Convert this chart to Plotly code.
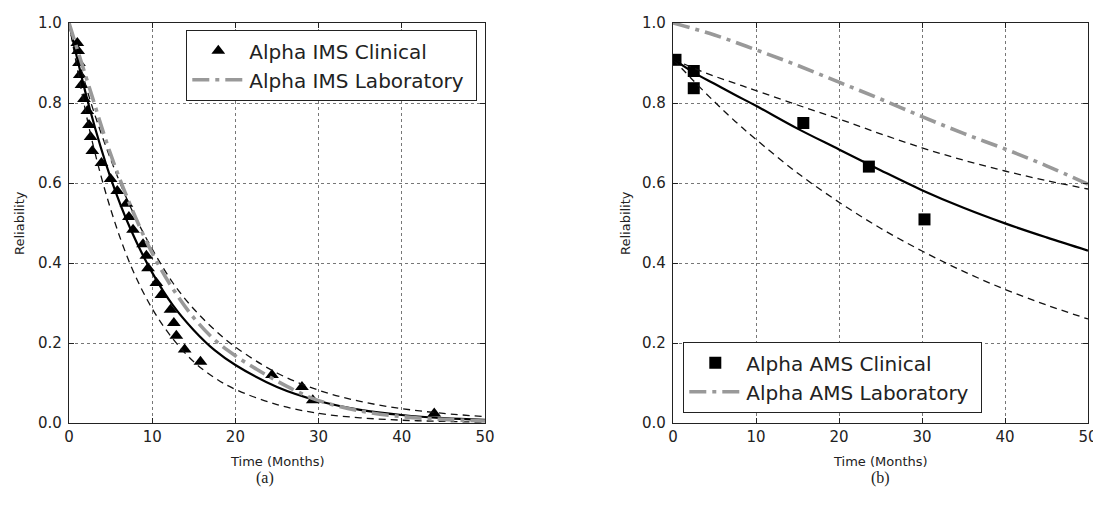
import plotly.graph_objects as go

# ---------------- data ----------------
# Panel (a): Alpha IMS
ims_clin_t = [1.0, 1.1, 1.2, 1.3, 1.5, 1.8, 2.2, 2.4, 2.6, 2.8, 3.9, 5.0, 5.8, 6.9, 7.2,
              7.7, 8.9, 9.3, 9.5, 10.5, 11.1, 12.2, 12.6, 12.9, 13.9, 15.8, 24.4, 28.0, 29.3, 43.9]
ims_clin_r = [0.95, 0.93, 0.90, 0.87, 0.845, 0.81, 0.78, 0.745, 0.715, 0.68, 0.65, 0.61, 0.58,
              0.548, 0.515, 0.483, 0.447, 0.418, 0.387, 0.35, 0.32, 0.283, 0.25, 0.218, 0.184,
              0.153, 0.12, 0.09, 0.057, 0.024]

ims_t = [0, 2.5, 5, 7.5, 10, 12.5, 15, 17.5, 20, 25, 30, 35, 40, 45, 50]
ims_fit = [1.0, 0.785, 0.613, 0.48, 0.376, 0.294, 0.232, 0.182, 0.145, 0.09, 0.055, 0.033, 0.02, 0.012, 0.008]
ims_upper = [1.0, 0.81, 0.66, 0.535, 0.435, 0.35, 0.285, 0.233, 0.19, 0.125, 0.082, 0.054, 0.036, 0.024, 0.016]
ims_lower = [1.0, 0.73, 0.535, 0.39, 0.286, 0.21, 0.153, 0.113, 0.084, 0.046, 0.024, 0.013, 0.007, 0.004, 0.002]
ims_lab_t = [0, 2.5, 5, 7.5, 10, 12.5, 15, 17.5, 20, 22.5, 25, 27.5, 30, 35, 40, 45, 50]
ims_lab = [1.0, 0.835, 0.672, 0.538, 0.425, 0.335, 0.263, 0.208, 0.168, 0.135, 0.105, 0.078,
           0.056, 0.03, 0.016, 0.009, 0.005]

# Panel (b): Alpha AMS
ams_clin_t = [0.3, 2.5, 2.5, 15.7, 23.6, 30.3]
ams_clin_r = [0.908, 0.88, 0.837, 0.75, 0.641, 0.509]

ams_t = [0, 2.5, 5, 7.5, 10, 15, 20, 25, 30, 35, 40, 45, 50]
ams_fit = [0.91, 0.876, 0.848, 0.82, 0.793, 0.736, 0.684, 0.632, 0.582, 0.538, 0.499, 0.464, 0.431]
ams_upper = [0.91, 0.887, 0.867, 0.849, 0.831, 0.795, 0.76, 0.723, 0.688, 0.657, 0.63, 0.606, 0.585]
ams_lower = [0.91, 0.855, 0.803, 0.754, 0.709, 0.625, 0.552, 0.487, 0.43, 0.379, 0.334, 0.295, 0.26]
ams_lab_t = [0, 5, 10, 15, 20, 25, 30, 35, 40, 45, 50]
ams_lab = [1.0, 0.97, 0.933, 0.894, 0.852, 0.81, 0.766, 0.724, 0.685, 0.643, 0.597]

x_ticks = [0, 10, 20, 30, 40, 50]
y_ticks = [0.0, 0.2, 0.4, 0.6, 0.8, 1.0]
y_tick_text = ["0.0", "0.2", "0.4", "0.6", "0.8", "1.0"]

# ---------------- styles ----------------
GRAY = "#999999"
LAB_DASH = "17px,6px,4px,6px"
BOUND_DASH = "7px,5px"
FONT = "DejaVu Sans"
INK = "#222222"
PAD = "\u00a0"

fig = go.Figure()


def add_panel(xa, ya, legend, clin_t, clin_r, clin_name, symbol, msize,
              t, fit, upper, lower, lab_t, lab, lab_name):
    fig.add_trace(go.Scatter(x=clin_t, y=clin_r, mode="markers", name=clin_name,
                             marker=dict(symbol=symbol, size=msize, color="black",
                                         line=dict(width=0)),
                             xaxis=xa, yaxis=ya, legend=legend, showlegend=True))
    for band in (upper, lower):
        fig.add_trace(go.Scatter(x=t, y=band, mode="lines",
                                 line=dict(color="#111", width=1.3, dash=BOUND_DASH,
                                           shape="spline", smoothing=1.0),
                                 xaxis=xa, yaxis=ya, showlegend=False))
    fig.add_trace(go.Scatter(x=t, y=fit, mode="lines",
                             line=dict(color="black", width=2.2, shape="spline", smoothing=1.0),
                             xaxis=xa, yaxis=ya, showlegend=False))
    fig.add_trace(go.Scatter(x=lab_t, y=lab, mode="lines", name=lab_name + PAD,
                             line=dict(color=GRAY, width=3.6, dash=LAB_DASH,
                                       shape="spline", smoothing=1.0),
                             xaxis=xa, yaxis=ya, legend=legend, showlegend=True))


add_panel("x", "y", "legend", ims_clin_t, ims_clin_r, "Alpha IMS Clinical", "triangle-up", 12,
          ims_t, ims_fit, ims_upper, ims_lower, ims_lab_t, ims_lab, "Alpha IMS Laboratory")
add_panel("x2", "y2", "legend2", ams_clin_t, ams_clin_r, "Alpha AMS Clinical", "square", 12,
          ams_t, ams_fit, ams_upper, ams_lower, ams_lab_t, ams_lab, "Alpha AMS Laboratory")

# The page body adds an 8px margin, so work in screen pixels and subtract it.
OFF = 8
W, H = 1101 - OFF, 513 - 2 * OFF
L = 69 - OFF
T = 23 - OFF
R = W - (1088 - OFF)
B = H - (423 - OFF)
pw = W - L - R
ph = H - T - B
d1 = (485 - 69) / pw
d2 = (673 - 69) / pw


def px_x(p):
    return (p - OFF - L) / pw


def px_y(p):
    return (H - B - (p - OFF)) / ph


axis_common = dict(showline=True, linecolor=INK, linewidth=1.3, mirror="ticks",
                   ticks="inside", ticklen=5, tickcolor=INK, automargin=False,
                   showgrid=True, gridcolor="#777", griddash="dot", gridwidth=1,
                   zeroline=False, tickfont=dict(family=FONT, size=15, color=INK))

fig.update_layout(
    template="none",
    width=W, height=H,
    margin=dict(l=L, r=R, t=T, b=B),
    paper_bgcolor="white", plot_bgcolor="white",
    font=dict(family=FONT, color=INK),
    xaxis=dict(domain=[0, d1], range=[0, 50], tickvals=x_ticks, anchor="y",
               ticklabelstandoff=0, **axis_common),
    yaxis=dict(domain=[0, 1], range=[0, 1], tickvals=y_ticks, ticktext=y_tick_text, anchor="x",
               ticklabelstandoff=3, **axis_common),
    xaxis2=dict(domain=[d2, 1], range=[0, 50], tickvals=x_ticks, anchor="y2",
                ticklabelstandoff=0, **axis_common),
    yaxis2=dict(domain=[0, 1], range=[0, 1], tickvals=y_ticks, ticktext=y_tick_text, anchor="x2",
                ticklabelstandoff=3, **axis_common),
    legend=dict(x=px_x(186), y=px_y(30), xanchor="left", yanchor="top",
                bordercolor=INK, borderwidth=1.3, bgcolor="white",
                font=dict(family=FONT, size=20, color=INK), itemwidth=52,
                tracegroupgap=0),
    legend2=dict(x=px_x(683), y=px_y(413), xanchor="left", yanchor="bottom",
                 bordercolor=INK, borderwidth=1.3, bgcolor="white",
                 font=dict(family=FONT, size=20, color=INK), itemwidth=52,
                 tracegroupgap=0),
    showlegend=True,
)

# axis titles
for cx in ((69 + 485) / 2, (673 + 1088) / 2):
    fig.add_annotation(text="Time (Months)", xref="paper", yref="paper", x=px_x(cx), y=px_y(461),
                       showarrow=False, font=dict(family=FONT, size=13, color=INK),
                       xanchor="center", yanchor="middle")
for cx in (19, 625):
    fig.add_annotation(text="Reliability", xref="paper", yref="paper", x=px_x(cx), y=px_y(223),
                       showarrow=False, textangle=-90, font=dict(family=FONT, size=13, color=INK),
                       xanchor="center", yanchor="middle")

# panel labels
fig.add_annotation(text="(a)", xref="paper", yref="paper", x=px_x(265), y=px_y(478),
                   showarrow=False, font=dict(family="Liberation Serif", size=16, color=INK),
                   xanchor="center", yanchor="middle")
fig.add_annotation(text="(b)", xref="paper", yref="paper", x=px_x(880), y=px_y(478),
                   showarrow=False, font=dict(family="Liberation Serif", size=16, color=INK),
                   xanchor="center", yanchor="middle")

fig.write_html("out.html")
